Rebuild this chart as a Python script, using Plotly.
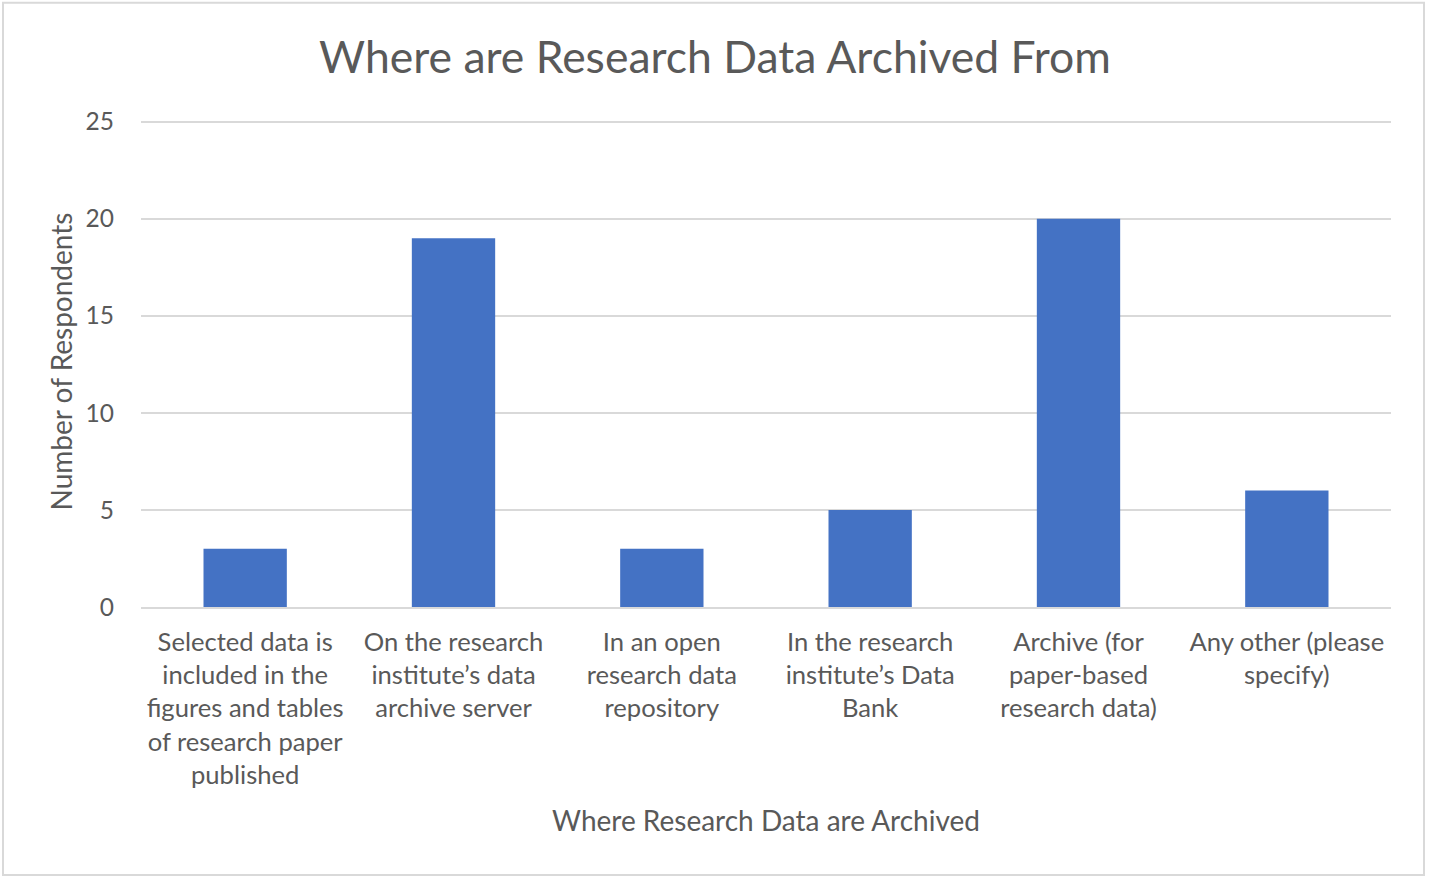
import plotly.graph_objects as go

categories = [
    "Selected data is<br>included in the<br>figures and tables<br>of research paper<br>published",
    "On the research<br>institute’s data<br>archive server",
    "In an open<br>research data<br>repository",
    "In the research<br>institute’s Data<br>Bank",
    "Archive (for<br>paper-based<br>research data)",
    "Any other (please<br>specify)",
]
values = [3, 19, 3, 5, 20, 6]
y_ticks = [0, 5, 10, 15, 20, 25]

W, H = 1430, 881
YMAX = 25.3
ZERO_Y, TOP25_Y = 607, 122
L, R, B = 141, 39, 274
T = ZERO_Y - (ZERO_Y - TOP25_Y) * YMAX / 25
FONT = "Lato"
GREY = "#595959"

fig = go.Figure(go.Bar(x=categories, y=values, marker=dict(color="#4472C4", line=dict(width=0))))

pw = W - L - R
ph = H - T - B
def px_x(x):
    return (x - L) / pw
def px_y(y):
    return (H - B - y) / ph

fig.update_layout(
    width=W, height=H,
    margin=dict(l=L, r=R, t=T, b=B, autoexpand=False),
    paper_bgcolor="white", plot_bgcolor="white",
    font=dict(family=FONT, color=GREY, size=24),
    bargap=0.6,
    showlegend=False,
    title=dict(text="Where are Research Data Archived From", x=0.5, xanchor="center",
               y=1 - 57 / H, yanchor="middle", font=dict(size=44.5, color=GREY, family=FONT)),
    xaxis=dict(
        title=dict(text="Where Research Data are Archived", font=dict(size=28, color=GREY), standoff=24),
        showline=True, linecolor="#d9d9d9", linewidth=2, ticks="", tickfont=dict(size=25.6, color=GREY),
        showgrid=False, ticklabelstandoff=11,
    ),
    yaxis=dict(
        title=dict(text="Number of Respondents", font=dict(size=28, color=GREY), standoff=4),
        range=[0, YMAX], tickvals=y_ticks, ticks="", showgrid=True, gridcolor="#d9d9d9", gridwidth=1.5,
        zeroline=False, showline=False, tickfont=dict(size=24.5, color=GREY), ticklabelstandoff=26,
    ),
    shapes=[dict(type="rect", xref="paper", yref="paper",
                 x0=px_x(3), x1=px_x(1424), y0=px_y(875), y1=px_y(3),
                 line=dict(color="#d9d9d9", width=2), fillcolor="rgba(0,0,0,0)", layer="below")],
)

fig.write_html("out.html", config={"displayModeBar": False},
               post_script="document.body.style.margin='0';document.body.style.overflow='hidden';")
